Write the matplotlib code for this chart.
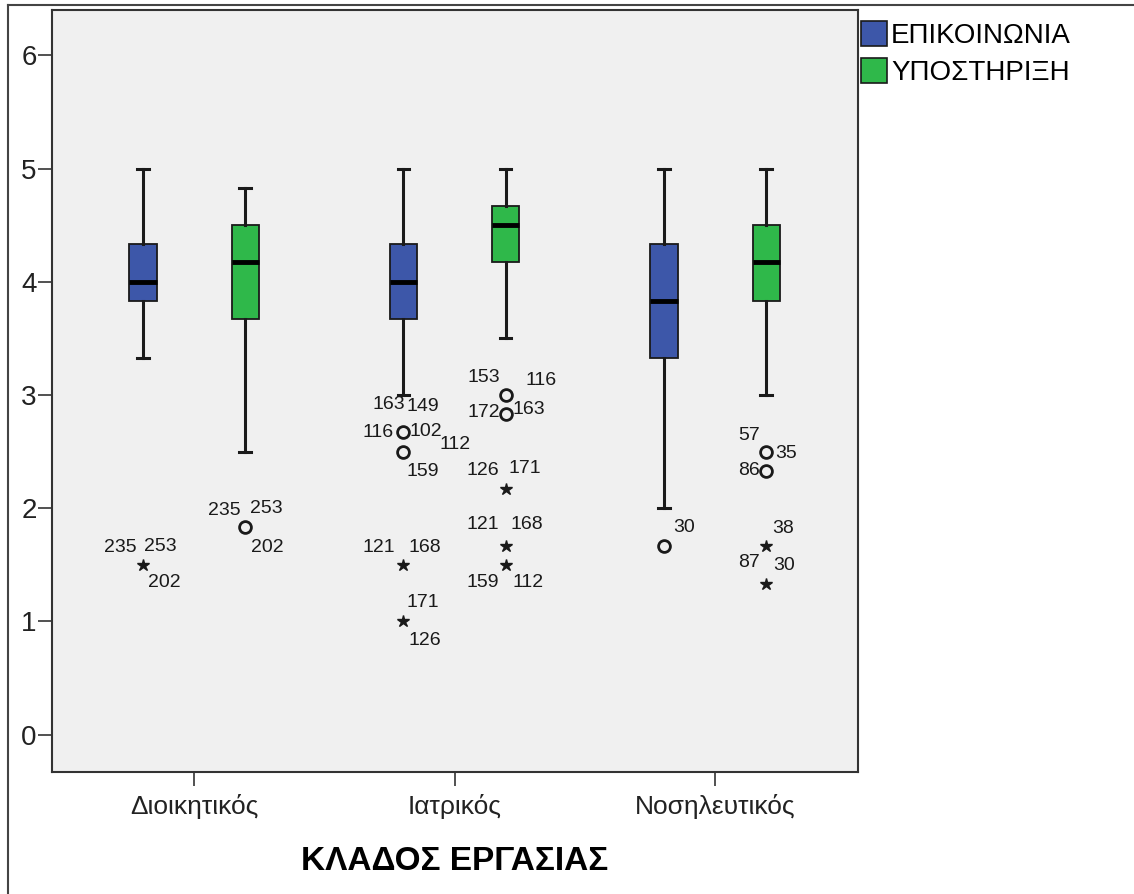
import matplotlib.pyplot as plt
from matplotlib.patches import Patch
from matplotlib.lines import Line2D

plt.rcParams['font.family'] = ['Liberation Sans', 'DejaVu Sans']

groups = ['Διοικητικός', 'Ιατρικός', 'Νοσηλευτικός']
series = ['ΕΠΙΚΟΙΝΩΝΙΑ', 'ΥΠΟΣΤΗΡΙΞΗ']
colors = ['#3d57a9', '#2fb84a']

# box statistics per group: [Διοικητικός, Ιατρικός, Νοσηλευτικός]
epik_lo = [3.33, 3.0, 2.0]
epik_q1 = [3.83, 3.67, 3.33]
epik_med = [4.0, 4.0, 3.83]
epik_q3 = [4.33, 4.33, 4.33]
epik_hi = [5.0, 5.0, 5.0]

ypo_lo = [2.5, 3.5, 3.0]
ypo_q1 = [3.67, 4.17, 3.83]
ypo_med = [4.17, 4.5, 4.17]
ypo_q3 = [4.5, 4.67, 4.5]
ypo_hi = [4.83, 5.0, 5.0]

# outliers: (group, series, value, marker) 'o' = outlier, '*' = extreme
outliers = [
    (0, 0, 1.5, '*'),
    (0, 1, 1.83, 'o'),
    (1, 0, 2.67, 'o'), (1, 0, 2.5, 'o'), (1, 0, 1.5, '*'), (1, 0, 1.0, '*'),
    (1, 1, 3.0, 'o'), (1, 1, 2.83, 'o'), (1, 1, 2.17, '*'), (1, 1, 1.67, '*'), (1, 1, 1.5, '*'),
    (2, 0, 1.67, 'o'),
    (2, 1, 2.5, 'o'), (2, 1, 2.33, 'o'), (2, 1, 1.67, '*'), (2, 1, 1.33, '*'),
]

# case labels: (group, series, value, text)
case_labels = [
    (0, 0, 1.5, '235'), (0, 0, 1.5, '253'), (0, 0, 1.5, '202'),
    (0, 1, 1.83, '235'), (0, 1, 1.83, '253'), (0, 1, 1.83, '202'),
    (1, 0, 2.67, '163'), (1, 0, 2.67, '149'), (1, 0, 2.67, '116'), (1, 0, 2.67, '102'),
    (1, 0, 2.5, '112'), (1, 0, 2.5, '159'),
    (1, 0, 1.5, '121'), (1, 0, 1.5, '168'),
    (1, 0, 1.0, '171'), (1, 0, 1.0, '126'),
    (1, 1, 3.0, '153'), (1, 1, 3.0, '116'),
    (1, 1, 2.83, '172'), (1, 1, 2.83, '163'),
    (1, 1, 2.17, '126'), (1, 1, 2.17, '171'),
    (1, 1, 1.67, '121'), (1, 1, 1.67, '168'),
    (1, 1, 1.5, '159'), (1, 1, 1.5, '112'),
    (2, 0, 1.67, '30'),
    (2, 1, 2.5, '57'), (2, 1, 2.5, '35'),
    (2, 1, 2.33, '86'),
    (2, 1, 1.67, '38'), (2, 1, 1.67, '87'), (2, 1, 1.67, '30'),
]
# label offsets from the point, in pixels (right, down)
label_offsets = [
    (-23, -17), (17, -18), (21, 18),
    (-21, -17), (21, -19), (22, 20),
    (-15, -28), (19, -26), (-25, 0), (22, -1),
    (52, -7), (19, 20),
    (-25, -17), (21, -17),
    (19, -19), (21, 19),
    (-22, -17), (35, -14),
    (-22, -2), (23, -5),
    (-23, -18), (19, -20),
    (-23, -21), (21, -21),
    (-23, 18), (22, 18),
    (20, -18),
    (-17, -16), (20, 2),
    (-17, 0),
    (17, -17), (-17, 17), (18, 20),
]

offset = 0.196
width = 0.104

fig = plt.figure(figsize=(11.34, 8.94), dpi=100)
ax = fig.add_axes([0.0459, 0.1365, 0.7108, 0.8523])
ax.set_facecolor('#f0f0f0')

for s, (lo, q1, med, q3, hi) in enumerate([(epik_lo, epik_q1, epik_med, epik_q3, epik_hi),
                                           (ypo_lo, ypo_q1, ypo_med, ypo_q3, ypo_hi)]):
    stats = []
    for g in range(len(groups)):
        stats.append({'whislo': lo[g], 'q1': q1[g], 'med': med[g], 'q3': q3[g],
                      'whishi': hi[g], 'fliers': []})
    pos = [g + (offset if s else -offset) for g in range(len(groups))]
    ax.bxp(stats, positions=pos, widths=width, patch_artist=True, showfliers=False,
           boxprops=dict(facecolor=colors[s], edgecolor='#1a1a1a', linewidth=1.3),
           medianprops=dict(color='black', linewidth=3.5),
           whiskerprops=dict(color='#1a1a1a', linewidth=2.2),
           capprops=dict(color='#1a1a1a', linewidth=2.2),
           capwidths=0.045, zorder=3)

for g, s, v, m in outliers:
    x = g + (offset if s else -offset)
    if m == 'o':
        ax.plot(x, v, 'o', ms=8.5, mfc='none', mec='#1a1a1a', mew=2, zorder=4)
    else:
        ax.plot(x, v, '*', ms=9, color='#1a1a1a', zorder=4)

for (g, s, v, t), (dx, dy) in zip(case_labels, label_offsets):
    x = g + (offset if s else -offset)
    ax.annotate(t, (x, v), xytext=(dx * 0.72, -dy * 0.72), textcoords='offset points',
                ha='center', va='center', fontsize=14, color='#1a1a1a')

ax.set_xlim(-0.545, 2.549)
ax.set_ylim(-0.33, 6.4)
ax.set_xticks(range(len(groups)))
ax.set_xticklabels(groups, fontsize=19, color='#222222')
ax.set_yticks(range(0, 7))
ax.set_yticklabels([str(i) for i in range(0, 7)], fontsize=20, color='#222222')
ax.tick_params(axis='both', direction='out', length=10, width=1.2, color='#333333')
ax.tick_params(axis='x', pad=6)
ax.tick_params(axis='y', pad=1)
for sp in ax.spines.values():
    sp.set_color('#333333')
    sp.set_linewidth(1.5)

ax.set_xlabel('ΚΛΑΔΟΣ ΕΡΓΑΣΙΑΣ', fontsize=24, fontweight='bold', labelpad=19)

handles = [Patch(facecolor=colors[i], edgecolor='#1a1a1a', linewidth=1.2) for i in range(2)]
fig.legend(handles, series, loc='upper left', bbox_to_anchor=(0.759, 0.976),
           frameon=False, fontsize=20,
           handlelength=0.94, handleheight=1.0,
           handletextpad=0.15, labelspacing=0.3, borderaxespad=0, borderpad=0)

# outer frame (top and left edges)
fig.add_artist(Line2D([0.007, 1.0], [0.994, 0.994], color='#444444', lw=1.5,
                      transform=fig.transFigure))
fig.add_artist(Line2D([0.007, 0.007], [0.0, 0.994], color='#444444', lw=1.5,
                      transform=fig.transFigure))

fig.savefig('out.png', dpi=100)
